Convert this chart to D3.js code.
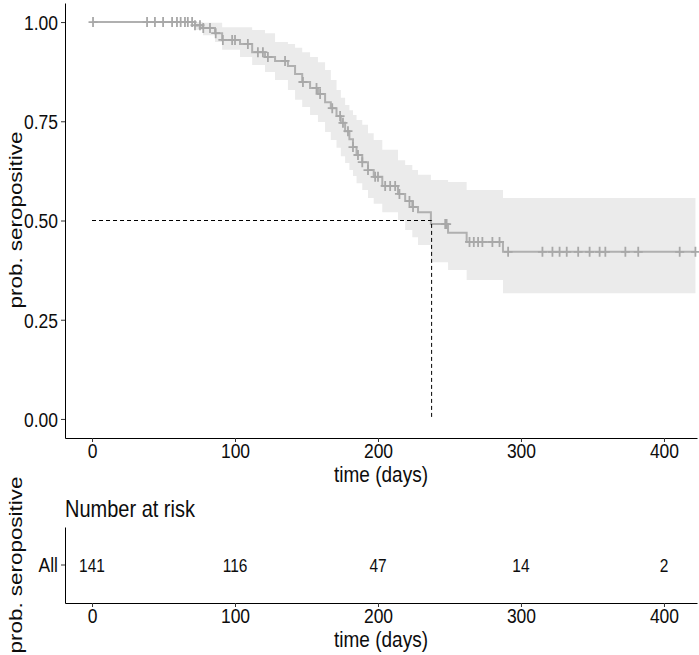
<!DOCTYPE html>
<html>
<head>
<meta charset="utf-8">
<script src="https://cdn.jsdelivr.net/npm/d3@7"></script>
<style>
  body { margin: 0; background: #fff; }
  text { font-family: "Liberation Sans", Arial, sans-serif; fill: #0d0d0d; }
</style>
</head>
<body>
<svg id="chart" width="699" height="655"></svg>
<script>
// Kaplan-Meier steps
const eventTimes = [72, 77.6, 86, 91, 103.5, 112, 121, 128, 137, 142, 147, 152.5, 158, 163, 167, 171, 174, 177, 180, 182.5, 185, 189, 193, 197, 203, 214, 219, 224, 228, 237, 249, 262, 287.4];
const survival   = [0.992, 0.985, 0.972, 0.955, 0.945, 0.924, 0.912, 0.902, 0.889, 0.869, 0.849, 0.834, 0.819, 0.798, 0.783, 0.763, 0.746, 0.725, 0.705, 0.685, 0.665, 0.647, 0.627, 0.610, 0.587, 0.567, 0.549, 0.534, 0.521, 0.491, 0.469, 0.446, 0.421];
const upperCI    = [1.0, 0.998, 0.998, 0.987, 0.987, 0.98, 0.972, 0.95, 0.945, 0.935, 0.924, 0.912, 0.899, 0.879, 0.854, 0.829, 0.809, 0.791, 0.778, 0.766, 0.753, 0.741, 0.72, 0.703, 0.678, 0.652, 0.640, 0.627, 0.615, 0.602, 0.597, 0.577, 0.557];
const lowerCI    = [0.98, 0.967, 0.95, 0.93, 0.912, 0.892, 0.874, 0.854, 0.829, 0.804, 0.786, 0.766, 0.748, 0.723, 0.703, 0.683, 0.662, 0.645, 0.627, 0.612, 0.594, 0.577, 0.557, 0.542, 0.521, 0.501, 0.476, 0.458, 0.438, 0.395, 0.375, 0.350, 0.317];
const censorTimes = [0.7, 38.5, 44, 49.7, 56, 59.4, 62, 65, 67, 70, 72,
  75.5, 77.8, 82.5, 86.5, 91.5, 98, 100, 109, 116, 119.5, 123, 135, 147.5, 157, 159.5, 168, 173.5, 175.5, 179, 182.5, 186, 189, 193, 198, 200, 205, 208.5, 212, 215, 222, 224.5,
  247, 248, 264, 267, 270, 273, 280, 285,
  291, 315, 322, 327, 332, 340, 348, 355, 359, 373, 382, 411, 422];
const lastTime = 422;
const medianTime = 237.5;
const xTicks = [0, 100, 200, 300, 400];
const yTicks = [0, 0.25, 0.5, 0.75, 1];
const riskLabel = ["All"];
const riskCounts = [141, 116, 47, 14, 2];

const VS = 1.18;          // vertical stretch of the original raster text
const tickSize = 17.5, titleSize = 19;
const svg = d3.select("#chart");

const x = d3.scaleLinear().domain([-18.9, 423.1]).range([65, 697]);
const y = d3.scaleLinear().domain([-0.048, 1.048]).range([438, 3]);

// step table incl. start and end
const steps = [{t: 0, s: 1, lo: 1, hi: 1}]
  .concat(eventTimes.map((t, i) => ({t, s: survival[i], lo: lowerCI[i], hi: upperCI[i]})));
steps.push(Object.assign({}, steps[steps.length - 1], {t: lastTime}));

svg.append("path")
  .datum(steps)
  .attr("fill", "#ebebeb")
  .attr("d", d3.area().curve(d3.curveStepAfter)
    .x(d => x(d.t)).y0(d => y(d.lo)).y1(d => y(d.hi)));

svg.append("path")
  .datum(steps)
  .attr("fill", "none")
  .attr("stroke", "#b0b0b0")
  .attr("stroke-width", 2)
  .attr("d", d3.line().curve(d3.curveStepAfter).x(d => x(d.t)).y(d => y(d.s)));

// censor marks sit on the step curve
const survAt = t => {
  const i = d3.bisectRight(eventTimes, t) - 1;
  return i < 0 ? 1 : survival[i];
};
svg.append("g").selectAll("path")
  .data(censorTimes)
  .enter().append("path")
  .attr("transform", d => `translate(${x(d)},${y(survAt(d))})`)
  .attr("d", "M-4.5,0H4.5M0,-5V5")
  .attr("stroke", "#a8a8a8")
  .attr("stroke-width", 1.8)
  .attr("fill", "none");

// median lines
svg.append("path")
  .attr("d", `M${x(0)},${y(0.5)}H${x(medianTime)}V${y(0)}`)
  .attr("fill", "none")
  .attr("stroke", "#000")
  .attr("stroke-width", 1)
  .attr("stroke-dasharray", "4,3");

const styleTicksX = (g, off) => {
  g.select(".domain").attr("stroke", "#000");
  g.selectAll(".tick line").attr("stroke", "#333");
  g.selectAll(".tick text")
    .attr("y", 0).attr("dy", null)
    .attr("font-size", tickSize)
    .attr("transform", `translate(0,${off}) scale(1,${VS})`);
};

const styleTicksY = g => {
  g.select(".domain").attr("stroke", "#000");
  g.selectAll(".tick line").attr("stroke", "#333");
  g.selectAll(".tick text")
    .attr("x", 0).attr("dy", null)
    .attr("font-size", tickSize)
    .attr("transform", `translate(-7,${0.36 * tickSize * VS}) scale(1,${VS})`);
};

// main axes
svg.append("g")
  .attr("transform", "translate(0,438)")
  .call(d3.axisBottom(x).tickValues(xTicks).tickSize(4).tickSizeOuter(0).tickFormat(d3.format("d")))
  .call(g => styleTicksX(g, 20));

svg.append("g")
  .attr("transform", "translate(65,0)")
  .call(d3.axisLeft(y).tickValues(yTicks).tickSize(4).tickSizeOuter(0).tickFormat(d3.format(".2f")))
  .call(styleTicksY);

const label = (tx, ty, txt, size, rot) => svg.append("text")
  .attr("transform", `translate(${tx},${ty}) scale(1,${VS})` + (rot ? " rotate(-90)" : ""))
  .attr("text-anchor", "middle")
  .attr("font-size", size)
  .text(txt);

label(381, 482, "time (days)", titleSize);
label(22, 220, "prob. seropositive", titleSize, true);

// risk table
const yr = d3.scaleBand().domain(riskLabel).range([527, 603]);

svg.append("text")
  .attr("transform", `translate(65,517) scale(1,${VS})`)
  .attr("font-size", 20)
  .text("Number at risk");

svg.append("g")
  .attr("transform", "translate(0,603)")
  .call(d3.axisBottom(x).tickValues(xTicks).tickSize(4).tickSizeOuter(0).tickFormat(d3.format("d")))
  .call(g => styleTicksX(g, 20));

svg.append("g")
  .attr("transform", "translate(65,0)")
  .call(d3.axisLeft(yr).tickSize(4).tickSizeOuter(0))
  .call(styleTicksY);

svg.append("g").selectAll("text")
  .data(riskCounts)
  .enter().append("text")
  .attr("transform", (d, i) => `translate(${x(xTicks[i])},${yr("All") + yr.bandwidth() / 2 + 0.36 * 15.5 * VS}) scale(1,${VS})`)
  .attr("text-anchor", "middle")
  .attr("font-size", 15.5)
  .text(d => d);

label(381, 647, "time (days)", titleSize);
label(22, 565, "prob. seropositive", titleSize, true);
</script>
</body>
</html>
